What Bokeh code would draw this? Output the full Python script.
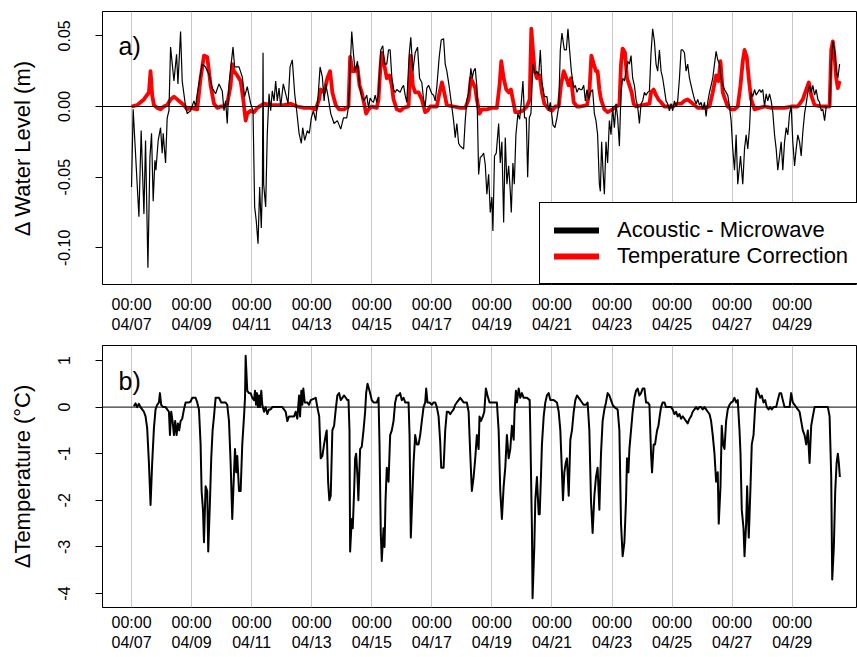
from bokeh.plotting import figure
from bokeh.models import ColumnDataSource, FixedTicker, Span, Label, Legend, LegendItem, Range1d
from bokeh.layouts import column
from bokeh.embed import file_html
from bokeh.resources import INLINE

FONT = "Liberation Sans"

# ---- data: time in hours since 04/07 00:00 ----
tick_hours = [0, 48, 96, 144, 192, 240, 288, 336, 384, 432, 480, 528]
tick_labels = ["00:00\n04/07", "00:00\n04/09", "00:00\n04/11", "00:00\n04/13",
               "00:00\n04/15", "00:00\n04/17", "00:00\n04/19", "00:00\n04/21",
               "00:00\n04/23", "00:00\n04/25", "00:00\n04/27", "00:00\n04/29"]

wl_ticks = [0.05, 0.0, -0.05, -0.10]
wl_tick_labels = ["0.05", "0.00", "-0.05", "-0.10"]
dt_ticks = [1, 0, -1, -2, -3, -4]
dt_tick_labels = ["1", "0", "-1", "-2", "-3", "-4"]

# Acoustic - Microwave water level difference (m)
acoustic_microwave = [
    (0, -0.057), (1.3, -0.002), (5.9, -0.078), (7.7, -0.017), (9.9, -0.076), (11.2, -0.024),
    (13.1, -0.114), (14.7, -0.036), (16, -0.019), (17.3, -0.067), (18.7, -0.038), (19.5, -0.045),
    (21.3, -0.024), (23.2, -0.015), (24.5, -0.033), (25.3, -0.019), (27.2, -0.040), (28.5, -0.008),
    (29.9, -0.003), (31.2, 0.042), (33.9, 0.018), (36, 0.037), (37.1, 0.016), (39.2, 0.053),
    (40.5, 0.018), (43.2, 0.000), (44.5, -0.005), (47.2, -0.003), (49.9, 0.004), (51.2, 0.000),
    (52.5, 0.009), (53.9, 0.016), (56.5, 0.030), (59.2, 0.028), (60.5, 0.025), (61.9, 0.023),
    (64.5, 0.013), (67.2, 0.009), (69.9, 0.016), (72.5, 0.011), (73.9, -0.003), (75.2, 0.004),
    (76.5, -0.012), (77.9, 0.016), (81.1, 0.042), (82.4, 0.028), (85.9, 0.028), (88.5, 0.021),
    (90.4, 0.007), (92.5, 0.014), (95.2, 0.002), (97.1, -0.003), (98.4, -0.071), (99.7, -0.081),
    (101.1, -0.097), (102.4, -0.057), (103.7, -0.086), (104.6, -0.055), (105.1, 0.038),
    (105.6, -0.055), (107.2, -0.071), (108.5, -0.019), (109.9, 0.009), (111.2, -0.003),
    (112.5, 0.011), (113.9, 0.004), (115.2, 0.018), (116.5, 0.004), (117.9, 0.013), (119.2, 0.000),
    (121.3, 0.016), (123.2, 0.009), (125.1, 0.002), (126.7, 0.028), (128.5, 0.033), (130.4, 0.009),
    (132, -0.003), (133.9, -0.019), (135.7, -0.026), (136.8, -0.015), (138.4, -0.024),
    (140.5, -0.017), (142.1, -0.019), (143.7, -0.008), (145.3, -0.003), (147.2, -0.010),
    (149.1, 0.007), (150.7, 0.028), (152.5, 0.021), (153.9, 0.004), (155.2, 0.016), (157.1, 0.007),
    (159.2, -0.005), (161.9, -0.012), (164.5, -0.010), (167.2, -0.016), (169.4, -0.008),
    (172, -0.008), (173.4, 0.000), (176, 0.053), (177.4, 0.037), (178.7, 0.025), (180.6, 0.032),
    (182.2, 0.015), (184, 0.007), (185.9, 0.004), (188, 0.008), (189.4, -0.001), (190.7, 0.006),
    (192, 0.004), (193.4, 0.003), (194.7, 0.008), (196, 0.003), (197.4, 0.009), (199.2, 0.040),
    (200.8, 0.043), (202.2, 0.030), (204, 0.030), (205.4, 0.040), (206.7, 0.040), (208, 0.021),
    (209.4, 0.012), (210.7, 0.010), (212, 0.012), (213.4, 0.011), (214.7, 0.010), (216, 0.013),
    (217.4, 0.015), (218.7, 0.008), (220, 0.003), (221.9, 0.037), (223.2, 0.049), (224.8, 0.025),
    (226.7, 0.038), (228.6, 0.042), (230.2, 0.020), (232, 0.017), (233.4, 0.005), (234.7, 0.000),
    (236, 0.013), (237.4, 0.015), (238.7, 0.012), (240, 0.009), (241.4, 0.008), (242.7, 0.004),
    (244, 0.014), (245.9, 0.035), (247.5, 0.047), (249.4, 0.048), (250.7, 0.030), (252, 0.025),
    (253.9, 0.014), (255.2, 0.005), (257.4, -0.010), (258.7, -0.022), (260, -0.012),
    (261.4, -0.026), (262.7, -0.028), (264, -0.029), (265.4, -0.030), (266.7, -0.010),
    (268, 0.005), (269.4, 0.009), (271.2, 0.027), (272.3, 0.020), (273.4, 0.025), (274.7, 0.027),
    (276, 0.014), (277.4, -0.048), (278.7, -0.036), (280, -0.035), (281.4, -0.033),
    (282.7, -0.041), (284, -0.062), (285.4, -0.048), (286.7, -0.075), (288, -0.064),
    (288.8, -0.088), (290.1, -0.035), (291.5, -0.033), (293.4, -0.012), (294.7, -0.040),
    (296, -0.025), (297.4, -0.082), (298.7, -0.022), (300, -0.055), (301.4, -0.042),
    (302.7, -0.060), (303.5, -0.075), (304.8, -0.040), (305.9, -0.055), (307.2, -0.020),
    (308.8, -0.005), (310.2, -0.009), (311.5, 0.003), (312.8, 0.018), (314.1, -0.008),
    (315.5, -0.008), (316.6, -0.050), (317.9, -0.008), (319.2, -0.005), (320.8, 0.030),
    (322.7, 0.023), (324, 0.025), (325.4, 0.022), (326.7, 0.040), (328, 0.017), (329.9, 0.007),
    (332, 0.007), (333.4, -0.003), (334.7, 0.003), (336.8, -0.013), (338.4, -0.015), (340, -0.008),
    (341.4, 0.000), (342.7, 0.040), (344, 0.052), (345.9, 0.040), (347.5, 0.040), (348.8, 0.055),
    (350.1, 0.040), (351.5, 0.025), (353.4, 0.013), (354.7, 0.015), (356, 0.010), (357.4, 0.013),
    (358.7, 0.012), (360, 0.012), (361.4, 0.015), (362.7, 0.004), (364, 0.012), (365.4, 0.005),
    (366.7, 0.010), (368.5, 0.012), (369.9, -0.005), (371.2, -0.010), (372.5, -0.020),
    (373.9, -0.055), (374.7, -0.060), (375.7, -0.025), (376.8, -0.045), (377.9, -0.062),
    (379.2, -0.025), (380.5, -0.040), (381.9, -0.010), (383.2, -0.020), (384.5, 0.000),
    (385.9, -0.015), (387.2, 0.002), (388.5, -0.008), (389.9, -0.028), (391.2, 0.010),
    (392.5, 0.020), (393.9, 0.018), (395.2, 0.025), (396.5, 0.032), (397.9, 0.030), (399.2, 0.036),
    (400.5, 0.020), (401.9, 0.015), (403.2, 0.005), (404.5, 0.000), (405.9, -0.012), (407.2, 0.002),
    (408.5, 0.004), (409.9, 0.010), (411.2, 0.008), (412.5, 0.010), (413.9, 0.011), (415.2, 0.038),
    (416.5, 0.055), (417.9, 0.046), (419.2, 0.030), (420.5, 0.025), (421.9, 0.040), (423.2, 0.025),
    (424.5, 0.020), (425.9, 0.012), (427.2, 0.004), (428.5, 0.002), (429.9, -0.003), (431.2, 0.002),
    (432.5, -0.003), (433.9, 0.004), (435.2, 0.000), (436.5, 0.004), (437.9, 0.020), (439.2, 0.040),
    (440.5, 0.040), (441.9, 0.038), (443.2, 0.025), (444.5, 0.030), (445.9, 0.020), (447.2, 0.015),
    (448.5, 0.010), (449.9, 0.005), (451.2, 0.002), (452.5, 0.005), (453.9, 0.001), (455.2, 0.003),
    (456.5, -0.002), (457.9, 0.003), (459.2, -0.007), (460.5, 0.003), (461.9, 0.010),
    (463.2, 0.015), (464.5, 0.020), (465.9, 0.030), (467.2, 0.039), (468.5, 0.033), (469.9, 0.030),
    (471.2, 0.020), (472.5, 0.015), (473.9, 0.012), (475.2, 0.010), (476.5, 0.008), (477.9, 0.000),
    (479.2, -0.010), (480.5, -0.030), (481.9, -0.045), (483.2, -0.020), (484.5, -0.055),
    (486.7, -0.035), (488.5, -0.055), (489.9, -0.030), (491.2, -0.020), (492.5, -0.030),
    (493.9, -0.015), (495.2, 0.010), (496.5, 0.007), (497.9, 0.012), (499.2, 0.008), (500.5, 0.010),
    (501.9, 0.012), (503.2, 0.010), (504.5, 0.012), (505.9, 0.000), (507.2, 0.009), (508.5, 0.004),
    (509.9, 0.009), (511.2, 0.004), (512.5, -0.004), (513.9, -0.020), (515.2, -0.030),
    (516.5, -0.045), (517.9, -0.035), (519.2, -0.025), (520.5, -0.045), (521.9, -0.025),
    (523.2, -0.015), (524.5, -0.020), (525.9, -0.005), (527.2, 0.000), (528.5, -0.025),
    (529.9, -0.042), (531.2, -0.030), (532.5, -0.020), (533.9, -0.025), (535.2, -0.035),
    (536.5, -0.018), (537.9, -0.005), (539.2, 0.002), (540.5, 0.010), (541.9, 0.015),
    (543.2, 0.010), (544.5, 0.015), (545.9, 0.008), (547.2, 0.012), (548.5, 0.005), (549.9, 0.003),
    (551.2, -0.003), (552.5, -0.002), (553.9, -0.010), (555.2, 0.000), (556.5, 0.000),
    (557.9, 0.000), (559.2, 0.030), (560.5, 0.046), (561.9, 0.040), (563.2, 0.025), (564.5, 0.020),
    (565.9, 0.030),
]

# Temperature correction (m)
temperature_correction = [
    (0, 0.000), (4.5, 0.001), (7.2, 0.003), (9.9, 0.005), (13.9, 0.010), (15.2, 0.025),
    (16.5, 0.008), (17.9, 0.001), (20.5, -0.001), (23.2, -0.002), (25.9, 0.000), (28.5, 0.001),
    (31.2, 0.005), (33.9, 0.007), (36.5, 0.005), (39.2, 0.003), (41.9, 0.001), (44.5, -0.002),
    (47.2, -0.001), (52.5, -0.002), (55.2, 0.020), (57.9, 0.036), (60.5, 0.035), (61.9, 0.025),
    (63.2, 0.015), (65.9, 0.002), (68.5, -0.001), (71.2, 0.000), (73.9, 0.000), (76.5, 0.002),
    (79.2, 0.015), (80.5, 0.030), (81.9, 0.025), (84.5, 0.022), (87.2, 0.018), (89.3, 0.005),
    (91.2, -0.010), (92.5, -0.005), (95.2, -0.003), (97.9, -0.004), (100.5, -0.001), (105.9, 0.002),
    (111.2, 0.001), (116.5, 0.001), (121.9, 0.001), (127.2, 0.002), (132.5, 0.000), (137.9, -0.001),
    (143.2, -0.001), (147.2, -0.002), (149.9, 0.005), (151.2, 0.012), (153.9, 0.010), (156.5, 0.020),
    (158.7, 0.025), (160.5, 0.010), (163.2, 0.001), (165.9, -0.002), (169.9, -0.002), (173.4, 0.000),
    (174.7, 0.035), (176.8, 0.025), (178.7, 0.025), (180.6, 0.028), (182.2, 0.015), (184, 0.010),
    (185.9, 0.002), (187.5, -0.005), (189.4, -0.002), (192, 0.000), (196, -0.001), (197.4, 0.005),
    (198.7, 0.025), (200, 0.038), (201.9, 0.030), (204, 0.020), (206.1, 0.022), (208, 0.015),
    (209.4, 0.005), (212, -0.002), (214.7, -0.003), (217.4, -0.001), (221.4, 0.000), (223.2, 0.036),
    (224.8, 0.015), (226.7, 0.010), (229.4, 0.010), (232, 0.005), (234.7, -0.004), (236.5, -0.003),
    (238.7, 0.000), (244, 0.000), (246.2, 0.010), (248.1, 0.017), (249.9, 0.010), (252, 0.001),
    (257.4, 0.000), (262.7, -0.001), (266.7, -0.001), (269.4, 0.005), (271.2, 0.020), (272.8, 0.017),
    (274.7, 0.013), (276, 0.005), (278.1, -0.005), (280, -0.002), (284, -0.002), (288, -0.001),
    (292, -0.001), (294.1, 0.015), (295.5, 0.032), (297.4, 0.020), (299.5, 0.012), (301.4, 0.010),
    (303.2, 0.012), (305.4, 0.002), (306.7, -0.004), (309.4, -0.004), (312.8, -0.003), (316, 0.000),
    (318.2, 0.005), (319.5, 0.055), (320.8, 0.040), (322.2, 0.025), (324, 0.020), (326.2, 0.022),
    (328, 0.010), (329.9, 0.002), (333.4, -0.002), (336, -0.003), (338.7, 0.000), (341.4, 0.000),
    (343.2, 0.015), (345.4, 0.025), (347.5, 0.020), (349.4, 0.015), (351.2, 0.020), (353.4, 0.003),
    (356, 0.000), (358.7, 0.000), (364, 0.001), (365.9, 0.010), (367.5, 0.036), (369.4, 0.030),
    (371.2, 0.025), (372.5, 0.025), (373.9, 0.012), (375.2, 0.005), (377.9, -0.002), (380.5, -0.004),
    (384.5, -0.002), (387.2, 0.000), (389.9, 0.001), (391.2, 0.030), (392.5, 0.041), (394.4, 0.038),
    (396, 0.020), (397.9, 0.015), (399.7, 0.010), (401.3, 0.002), (403.2, 0.000), (408.5, 0.001),
    (413.9, 0.002), (415.2, 0.010), (417.3, 0.012), (419.2, 0.008), (421.1, 0.005), (423.2, 0.003),
    (425.9, 0.000), (432.5, 0.000), (436.5, 0.002), (439.2, 0.002), (441.9, 0.004), (444.5, 0.005),
    (447.2, 0.003), (449.9, 0.001), (452.5, -0.001), (457.9, -0.001), (461.9, 0.000), (464.5, 0.010),
    (467.2, 0.022), (469.1, 0.018), (470.7, 0.032), (472.5, 0.010), (474.4, 0.005), (476.5, 0.000),
    (479.2, -0.002), (481.9, -0.002), (484.5, 0.000), (486.7, 0.015), (488.5, 0.032), (489.9, 0.040),
    (491.7, 0.035), (493.3, 0.020), (495.2, 0.005), (497.9, -0.002), (501.9, -0.001), (505.9, 0.000),
    (511.2, -0.001), (516.5, -0.001), (521.9, -0.001), (527.2, 0.000), (532.5, 0.000), (536.5, 0.005),
    (539.2, 0.012), (541.3, 0.017), (543.2, 0.008), (545.9, 0.001), (551.2, 0.000), (557.9, 0.000),
    (559.2, 0.040), (560.5, 0.046), (561.9, 0.035), (563.2, 0.020), (564.5, 0.013), (565.9, 0.018),
]

# Temperature difference (deg C)
delta_temperature = [
    (1.9, 0.02), (3.2, 0.08), (4.5, 0.00), (5.9, 0.07), (7.2, 0.00), (8.5, -0.05), (9.9, -0.10),
    (11.2, -0.20), (12.5, -0.45), (13.9, -1.2), (15.2, -2.1), (16.5, -1.2), (17.9, -0.45),
    (19.2, -0.05), (20.5, 0.05), (21.9, 0.10), (22.7, 0.30), (23.7, 0.05), (25.3, 0.00),
    (27.2, 0.00), (28.5, -0.05), (29.9, -0.10), (30.7, -0.60), (31.7, -0.10), (32.8, -0.30),
    (33.9, -0.60), (34.9, -0.30), (36, -0.60), (37.1, -0.35), (38.1, -0.50), (39.2, -0.30),
    (40.5, -0.25), (41.9, -0.05), (43.2, 0.10), (45.9, 0.10), (47.2, 0.12), (48.5, 0.20),
    (51.2, 0.20), (52.5, 0.10), (53.9, -0.05), (55.2, -0.80), (56, -1.80), (57.1, -2.2),
    (57.9, -2.9), (59.2, -1.7), (60.5, -1.8), (61.3, -3.1), (62.7, -2.0), (63.7, -1.1),
    (64.8, -0.5), (65.9, -0.20), (67.2, 0.20), (69.9, 0.20), (71.7, 0.10), (73.9, 0.10),
    (75.2, 0.10), (76.5, 0.05), (77.9, -0.30), (79.2, -1.2), (80.5, -2.4), (81.9, -1.4),
    (82.7, -0.9), (83.7, -1.4), (84.5, -1.05), (85.9, -1.8), (87.2, -1.8), (88.5, -0.8),
    (89.9, -0.20), (90.7, 0.20), (91.2, 1.10), (92.5, 0.35), (93.9, 0.30), (95.2, 0.30),
    (96.5, 0.20), (97.9, 0.15), (98.7, 0.35), (99.5, 0.05), (100.3, 0.30), (101.1, 0.00),
    (101.9, 0.25), (102.7, 0.00), (103.7, 0.35), (104.5, 0.05), (105.9, -0.10), (107.2, 0.00),
    (108.5, -0.15), (109.9, -0.05), (111.2, -0.05), (112.5, 0.00), (120.5, 0.00), (123.2, -0.10),
    (124.5, -0.30), (125.9, -0.20), (129.9, -0.20), (131.2, -0.10), (132.5, -0.25), (133.9, 0.25),
    (134.7, -0.20), (135.7, 0.35), (136.5, 0.05), (137.3, 0.40), (138.4, 0.10), (140.5, 0.10),
    (141.9, 0.05), (143.2, 0.15), (147.2, 0.20), (148.5, 0.00), (150, -0.20), (151.2, -1.1),
    (152.5, -1.05), (153.9, -0.80), (155.2, -0.60), (156, -0.50), (157.1, -1.6), (158.1, -2.0),
    (159.2, -1.9), (160.5, -0.50), (161.9, -0.40), (163.2, -0.05), (164.5, 0.25), (165.9, 0.30),
    (167.2, 0.15), (169.9, 0.25), (171.2, 0.20), (172.5, 0.15), (173.4, 0.15), (174.2, -0.5),
    (174.7, -3.1), (176, -2.4), (176.8, -2.6), (177.9, -1.8), (178.7, -1.1), (179.5, -1.0),
    (180.6, -1.5), (181.3, -2.0), (182.7, -0.9), (184, -0.85), (185.4, -0.5), (186.7, -0.1),
    (187.5, 0.30), (188.6, 0.50), (190.2, 0.35), (192, 0.15), (193.4, 0.10), (196, 0.10),
    (197.4, 0.20), (198.2, -0.8), (199.2, -2.7), (200, -3.3), (201.4, -2.6), (202.2, -3.0),
    (203, -2.0), (204, -1.3), (205.4, -1.6), (206.7, -0.6), (208, -0.5), (209.4, -0.3),
    (210.7, 0.10), (212, 0.25), (213.4, 0.25), (214.7, 0.30), (216, 0.15), (217.4, 0.20),
    (218.7, 0.10), (221.4, 0.10), (222.2, -0.6), (223.2, -2.8), (224.3, -2.0), (225.4, -1.2),
    (226.7, -0.6), (228, -0.8), (229.4, -0.8), (230.7, -0.6), (232, -0.3), (233.4, 0.00),
    (234.7, 0.10), (235.5, 0.40), (236.5, 0.10), (238.1, 0.10), (240, 0.05), (241.4, 0.10),
    (242.7, 0.10), (244, 0.00), (245.4, -0.20), (246.7, -0.75), (247.5, -1.3), (249.4, -1.3),
    (250.7, -0.5), (252, -0.1), (253.4, -0.1), (254.7, -0.15), (256, -0.10), (257.4, -0.05),
    (258.7, 0.05), (260, 0.10), (261.4, 0.15), (262.7, 0.20), (265.4, 0.10), (268, 0.10),
    (269.4, -0.10), (270.7, -1.0), (272, -1.8), (273.4, -1.5), (274.7, -1.1), (276, -0.6),
    (277.4, -0.9), (278.1, -0.2), (279.2, -0.3), (280.8, -0.2), (281.9, -0.1), (283.2, 0.40),
    (284.5, 0.25), (286.1, 0.10), (292, 0.10), (293.4, -0.5), (294.7, -1.8), (296, -2.4),
    (297.4, -1.7), (298.7, -1.3), (300, -0.6), (301.4, -1.1), (302.7, -0.9), (304, -0.4),
    (305.4, -0.7), (306.1, -0.1), (307.2, 0.35), (308, 0.10), (309.4, 0.40), (310.7, 0.20),
    (312, 0.30), (313.4, 0.20), (316, 0.20), (318.2, 0.15), (318.7, -0.5), (320, -2.6),
    (320.5, -4.1), (321.9, -3.0), (322.7, -2.0), (324, -1.5), (325.4, -2.3), (326.2, -2.3),
    (327.2, -1.5), (328, -0.8), (329.4, -0.2), (330.7, 0.10), (332, 0.25), (333.4, 0.30),
    (334.7, 0.15), (337.4, 0.15), (340, 0.10), (341.4, -0.1), (342.7, -0.5), (344, -1.4),
    (344.8, -2.0), (345.9, -1.4), (347, -1.2), (348, -1.1), (349.4, -1.9), (350.7, -0.7),
    (352, -0.5), (353.4, -0.1), (354.7, 0.15), (356, 0.25), (358.7, 0.15), (360, 0.10),
    (361.3, 0.05), (363.2, 0.05), (364.5, 0.10), (365.9, -0.5), (367.2, -2.0), (368.5, -2.7),
    (369.9, -1.9), (371.2, -1.5), (372.5, -1.3), (373.9, -2.2), (375.2, -1.0), (376.5, -0.3),
    (377.9, -0.05), (379.2, 0.10), (380.5, 0.30), (381.9, 0.25), (383.2, 0.15), (384.5, 0.05),
    (385.9, 0.00), (388.5, -0.05), (389.9, -0.5), (391.2, -2.5), (392.5, -3.2), (393.9, -2.9),
    (395.2, -2.0), (396, -1.1), (397.1, -1.4), (397.9, -0.9), (399.2, -0.5), (400.5, -0.1),
    (401.9, 0.20), (403.2, 0.35), (404.5, 0.40), (405.9, 0.25), (407.2, 0.30), (408.5, 0.40),
    (409.9, 0.40), (411.2, 0.10), (412.5, 0.10), (413.9, 0.05), (415.2, -1.0), (416, -1.4),
    (417.3, -0.8), (418.4, -0.8), (420, -0.5), (421.1, -0.4), (422.1, -0.2), (423.2, 0.00),
    (424.5, 0.10), (425.9, 0.10), (427.2, 0.00), (431.2, 0.00), (432.5, -0.05), (433.9, -0.15),
    (435.2, -0.10), (436.5, -0.20), (437.9, -0.15), (439.2, -0.25), (440.5, -0.20), (441.9, -0.25),
    (443.2, -0.30), (444.5, -0.35), (445.9, -0.25), (447.2, -0.20), (448.5, -0.10), (449.9, -0.05),
    (451.2, 0.00), (452.5, -0.05), (453.9, 0.00), (455.2, 0.00), (456.5, -0.05), (457.9, 0.00),
    (459.2, -0.05), (460.5, -0.10), (461.9, -0.15), (463.2, -0.30), (464.5, -0.6), (465.9, -1.0),
    (467.2, -1.6), (468.5, -1.4), (469.3, -2.5), (470.7, -1.7), (471.7, -0.4), (472.8, -0.8),
    (473.9, -0.9), (475.2, -0.3), (476.5, -0.05), (477.9, 0.05), (479.2, 0.10), (480.5, 0.12),
    (481.9, 0.20), (483.2, 0.10), (484.5, 0.15), (485.9, -0.5), (486.7, -1.0), (487.7, -2.2),
    (489.1, -2.6), (489.9, -3.2), (491.2, -2.5), (492, -1.7), (493.3, -2.8), (494.7, -1.7),
    (495.7, -0.8), (497.1, -0.6), (498.4, 0.00), (499.7, 0.40), (501.1, 0.30), (502.4, 0.20),
    (503.7, 0.25), (505.1, 0.10), (506.4, 0.15), (507.7, 0.00), (509.1, -0.05), (510.4, 0.00),
    (511.7, -0.05), (513.1, 0.00), (515.2, 0.00), (516.5, 0.15), (517.9, 0.30), (519.2, 0.30),
    (520.5, 0.15), (521.9, 0.00), (525.9, 0.00), (527.2, 0.30), (528.5, 0.10), (529.9, 0.05),
    (531.2, 0.00), (532.5, -0.05), (533.9, -0.10), (535.2, -0.30), (536.5, -0.5), (537.9, -0.6),
    (539.2, -0.8), (540.5, -0.5), (541.9, -1.2), (543.2, -0.4), (544.5, -0.2), (545.9, 0.00),
    (556.5, 0.00), (557.9, -0.2), (559.2, -1.5), (560, -3.7), (561.3, -3.0), (562.4, -1.8),
    (563.5, -1.2), (564.5, -1.0), (565.3, -1.2), (566.1, -1.5),
]


def to_source(pairs):
    return ColumnDataSource(data=dict(x=[a for a, _ in pairs], y=[b for _, b in pairs]))


def make_fig(height, border_top, border_bottom, x_standoff, y_range, yticks, ylabels, ylabel):
    p = figure(width=857, height=height, x_range=(-23.2, 580.2), y_range=y_range,
               output_backend="svg", toolbar_location=None,
               min_border_left=102, min_border_right=0, min_border_top=border_top,
               min_border_bottom=border_bottom)
    p.background_fill_color = "white"
    p.border_fill_color = "white"
    p.outline_line_color = "black"
    p.outline_line_width = 1
    p.outline_line_alpha = 1

    xt = FixedTicker(ticks=tick_hours)
    p.xaxis.ticker = xt
    p.xaxis.major_label_overrides = {h: lab for h, lab in zip(tick_hours, tick_labels)}
    p.xaxis.axis_line_color = None
    p.xaxis.major_tick_line_color = None
    p.xaxis.minor_tick_line_color = None
    p.xaxis.major_label_text_font = FONT
    p.xaxis.major_label_text_font_size = "16px"
    p.xaxis.major_label_text_color = "black"
    p.xaxis.major_label_standoff = x_standoff

    p.yaxis.ticker = FixedTicker(ticks=yticks)
    p.yaxis.major_label_overrides = {t: lab for t, lab in zip(yticks, ylabels)}
    p.yaxis.major_label_orientation = "vertical"
    p.yaxis.axis_line_color = "black"
    p.yaxis.major_tick_line_color = "black"
    p.yaxis.major_tick_in = 0
    p.yaxis.major_tick_out = 7
    p.yaxis.minor_tick_line_color = None
    p.yaxis.major_label_text_font = FONT
    p.yaxis.major_label_text_font_size = "16px"
    p.yaxis.major_label_text_color = "black"
    p.yaxis.major_label_standoff = 25
    p.yaxis.axis_label = ylabel
    p.yaxis.axis_label_text_font = FONT
    p.yaxis.axis_label_text_font_size = "22px"
    p.yaxis.axis_label_text_font_style = "normal"
    p.yaxis.axis_label_text_color = "black"
    p.yaxis.axis_label_standoff = 21

    p.xgrid.ticker = xt
    p.xgrid.grid_line_color = "#c8c8c8"
    p.xgrid.grid_line_width = 1
    p.ygrid.grid_line_color = None
    return p


# ---- panel a ----
p1 = make_fig(336, 11, 52, 5, (-0.1259, 0.0672), wl_ticks, wl_tick_labels, "\u0394 Water Level (m)")
p1.add_layout(Span(location=0, dimension="width", line_color="black", line_width=1))
src_tc = to_source(temperature_correction)
src_am = to_source(acoustic_microwave)
p1.line("x", "y", source=src_tc, line_color="#ff0000", line_width=3.8, line_join="round")
p1.line("x", "y", source=src_am, line_color="black", line_width=1.2)

# thick legend swatches: same series on a range where they fall outside the frame (clipped)
p1.extra_y_ranges = {"swatch": Range1d(10, 11)}
leg_blk = p1.line("x", "y", source=src_am, y_range_name="swatch", line_color="black",
                  line_width=6, line_cap="round")
leg_red = p1.line("x", "y", source=src_tc, y_range_name="swatch", line_color="#ff0000",
                  line_width=6, line_cap="round")
legend = Legend(items=[LegendItem(label="Acoustic - Microwave", renderers=[leg_blk]),
                       LegendItem(label="Temperature Correction", renderers=[leg_red])],
                location=(437, 0))
legend.border_line_color = "black"
legend.border_line_width = 1
legend.border_line_alpha = 1
legend.background_fill_alpha = 1
legend.padding = 14
legend.margin = 0
legend.spacing = 0
legend.label_height = 26
legend.glyph_height = 26
legend.glyph_width = 45
legend.label_standoff = 18
legend.label_text_font = FONT
legend.label_text_font_size = "22px"
legend.label_text_color = "black"
p1.add_layout(legend)
p1.add_layout(Label(x=-10.4, y=0.043, text="a)", text_font=FONT, text_font_size="25px",
                    text_baseline="middle", text_color="black"))

# ---- panel b ----
p2 = make_fig(318, 9, 47, 0, (-4.30, 1.322), dt_ticks, dt_tick_labels, "\u0394Temperature (\u00b0C)")
p2.add_layout(Span(location=0, dimension="width", line_color="black", line_width=1))
p2.line("x", "y", source=to_source(delta_temperature), line_color="black", line_width=2,
        line_join="round")
p2.add_layout(Label(x=-10.4, y=0.55, text="b)", text_font=FONT, text_font_size="25px",
                    text_baseline="middle", text_color="black"))

layout = column(p1, p2, spacing=0)
open("out.html", "w").write(file_html(layout, INLINE))
